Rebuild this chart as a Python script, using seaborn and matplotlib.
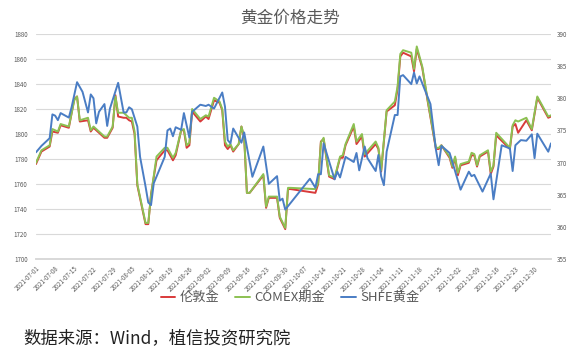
import matplotlib
matplotlib.use("Agg")
import matplotlib.pyplot as plt
import matplotlib.dates as mdates
import pandas as pd
import seaborn as sns

# 伦敦金 / COMEX期金 (美元/盎司), 左轴
intl_dates = [
    "2021-07-01", "2021-07-03", "2021-07-06", "2021-07-07", "2021-07-09", "2021-07-10",
    "2021-07-13", "2021-07-15", "2021-07-16", "2021-07-17", "2021-07-20", "2021-07-21",
    "2021-07-22", "2021-07-24", "2021-07-26", "2021-07-27", "2021-07-29", "2021-07-30",
    "2021-07-31", "2021-08-02", "2021-08-03", "2021-08-04", "2021-08-05", "2021-08-06",
    "2021-08-07", "2021-08-10", "2021-08-11", "2021-08-12", "2021-08-14", "2021-08-17",
    "2021-08-18", "2021-08-20", "2021-08-21", "2021-08-23", "2021-08-24", "2021-08-25",
    "2021-08-26", "2021-08-27", "2021-08-30", "2021-09-01", "2021-09-02", "2021-09-04",
    "2021-09-06", "2021-09-07", "2021-09-08", "2021-09-09", "2021-09-10", "2021-09-11",
    "2021-09-13", "2021-09-14", "2021-09-15", "2021-09-16", "2021-09-17", "2021-09-22",
    "2021-09-23", "2021-09-24", "2021-09-27", "2021-09-28", "2021-09-30", "2021-10-01",
    "2021-10-02", "2021-10-11", "2021-10-12", "2021-10-13", "2021-10-14", "2021-10-16",
    "2021-10-18", "2021-10-20", "2021-10-21", "2021-10-22", "2021-10-25", "2021-10-26",
    "2021-10-28", "2021-10-29", "2021-11-02", "2021-11-03", "2021-11-04", "2021-11-06",
    "2021-11-09", "2021-11-10", "2021-11-11", "2021-11-12", "2021-11-15", "2021-11-16",
    "2021-11-17", "2021-11-19", "2021-11-21", "2021-11-24", "2021-11-25", "2021-11-26",
    "2021-11-29", "2021-11-30", "2021-12-01", "2021-12-02", "2021-12-03", "2021-12-06",
    "2021-12-07", "2021-12-08", "2021-12-09", "2021-12-10", "2021-12-13", "2021-12-14",
    "2021-12-15", "2021-12-16", "2021-12-21", "2021-12-22", "2021-12-23", "2021-12-24",
    "2021-12-27", "2021-12-29", "2021-12-31", "2022-01-04", "2022-01-05",
]
london = [
    1776, 1786, 1790, 1802, 1801, 1807, 1805, 1828, 1830, 1810, 1811, 1802,
    1805, 1801, 1797, 1797, 1805, 1831, 1814, 1813, 1813, 1811, 1810, 1800,
    1759, 1728, 1728, 1752, 1779, 1787, 1787, 1779, 1783, 1803, 1803, 1789,
    1791, 1818, 1810, 1814, 1812, 1827, 1825, 1819, 1791, 1788, 1791, 1786,
    1792, 1806, 1797, 1753, 1753, 1767, 1741, 1749, 1749, 1733, 1724, 1756,
    1756, 1753, 1760, 1794, 1796, 1766, 1764, 1781, 1781, 1791, 1806, 1792,
    1798, 1782, 1792, 1788, 1770, 1818, 1823, 1836, 1862, 1865, 1862, 1850,
    1868, 1853, 1826, 1788, 1788, 1791, 1781, 1773, 1781, 1767, 1775, 1777,
    1783, 1783, 1774, 1782, 1786, 1768, 1774, 1799, 1788, 1806, 1808, 1801,
    1811, 1803, 1829, 1813, 1814,
]
comex = [
    1777, 1787, 1791, 1804, 1802, 1808, 1806, 1827, 1830, 1811, 1813, 1803,
    1806, 1802, 1798, 1798, 1806, 1830, 1817, 1817, 1815, 1813, 1813, 1802,
    1760, 1729, 1729, 1751, 1782, 1789, 1789, 1781, 1785, 1803, 1804, 1791,
    1793, 1820, 1812, 1815, 1814, 1829, 1826, 1820, 1794, 1790, 1792, 1787,
    1792, 1806, 1798, 1753, 1753, 1768, 1742, 1750, 1750, 1734, 1725, 1757,
    1757, 1756, 1761, 1793, 1797, 1767, 1765, 1782, 1783, 1792, 1808, 1794,
    1800, 1784, 1794, 1789, 1771, 1819, 1826, 1838, 1864, 1867, 1865, 1852,
    1870, 1854, 1827, 1789, 1789, 1791, 1782, 1774, 1782, 1769, 1776, 1778,
    1785, 1784, 1775, 1783, 1787, 1770, 1775, 1801, 1789, 1807, 1811, 1810,
    1813, 1804, 1830, 1814, 1815,
]

# SHFE黄金 (元/克), 右轴
shfe_dates = [
    "2021-07-01", "2021-07-03", "2021-07-06", "2021-07-07", "2021-07-08", "2021-07-09",
    "2021-07-10", "2021-07-13", "2021-07-14", "2021-07-16", "2021-07-18", "2021-07-20",
    "2021-07-21", "2021-07-22", "2021-07-23", "2021-07-24", "2021-07-26", "2021-07-27",
    "2021-07-28", "2021-07-31", "2021-08-02", "2021-08-03", "2021-08-04", "2021-08-05",
    "2021-08-07", "2021-08-08", "2021-08-10", "2021-08-11", "2021-08-12", "2021-08-13",
    "2021-08-17", "2021-08-18", "2021-08-19", "2021-08-20", "2021-08-21", "2021-08-23",
    "2021-08-24", "2021-08-26", "2021-08-27", "2021-08-30", "2021-09-01", "2021-09-02",
    "2021-09-04", "2021-09-07", "2021-09-08", "2021-09-09", "2021-09-10", "2021-09-11",
    "2021-09-14", "2021-09-15", "2021-09-18", "2021-09-22", "2021-09-24", "2021-09-27",
    "2021-09-28", "2021-09-29", "2021-09-30", "2021-10-09", "2021-10-11", "2021-10-12",
    "2021-10-13", "2021-10-14", "2021-10-18", "2021-10-19", "2021-10-20", "2021-10-22",
    "2021-10-25", "2021-10-26", "2021-10-27", "2021-10-29", "2021-10-30", "2021-11-02",
    "2021-11-03", "2021-11-04", "2021-11-05", "2021-11-06", "2021-11-09", "2021-11-10",
    "2021-11-11", "2021-11-12", "2021-11-15", "2021-11-16", "2021-11-17", "2021-11-18",
    "2021-11-22", "2021-11-24", "2021-11-25", "2021-11-26", "2021-11-29", "2021-11-30",
    "2021-12-03", "2021-12-06", "2021-12-07", "2021-12-08", "2021-12-11", "2021-12-14",
    "2021-12-15", "2021-12-18", "2021-12-21", "2021-12-22", "2021-12-23", "2021-12-25",
    "2021-12-27", "2021-12-29", "2021-12-30", "2021-12-31", "2022-01-04", "2022-01-05",
]
shfe = [
    371.6, 372.6, 373.8, 377.5, 377.3, 376.6, 377.7, 377.0, 378.6, 382.5, 381.0, 377.8,
    380.6, 380.0, 376.1, 377.9, 379.1, 375.7, 378.4, 382.4, 377.8, 377.8, 378.6, 378.3,
    375.6, 370.9, 366.3, 363.8, 363.4, 366.8, 370.9, 375.0, 375.3, 374.1, 375.5, 375.1,
    377.7, 373.9, 377.9, 379.0, 378.8, 379.0, 378.4, 380.9, 378.7, 373.5, 373.0, 375.3,
    373.1, 374.7, 367.8, 372.5, 366.7, 367.9, 364.1, 364.4, 362.7, 367.5, 366.1, 368.2,
    368.2, 373.0, 367.4, 368.6, 367.7, 370.9, 370.1, 371.5, 368.8, 372.5, 370.7, 368.7,
    371.2, 367.9, 366.5, 371.7, 377.4, 377.4, 383.4, 383.6, 382.2, 384.0, 382.3, 383.4,
    379.1, 372.0, 369.6, 372.6, 371.5, 370.1, 365.8, 368.6, 367.9, 368.1, 365.5, 368.3,
    364.3, 372.7, 372.2, 368.7, 372.7, 373.5, 373.4, 374.4, 370.7, 374.5, 371.7, 373.0,
]

sns.set_theme(style="white")
plt.rcParams["font.family"] = ["Noto Sans CJK SC", "DejaVu Sans"]
grey = "#595959"

intl = pd.DataFrame({"date": pd.to_datetime(intl_dates), "london": london, "comex": comex})
sh = pd.DataFrame({"date": pd.to_datetime(shfe_dates), "shfe": shfe})

fig = plt.figure(figsize=(5.8, 3.57), dpi=100)
ax = fig.add_axes([0.062, 0.274, 0.888, 0.631])
ax2 = ax.twinx()

sns.lineplot(data=intl, x="date", y="london", ax=ax, color="#D93A3A", linewidth=1.4, label="伦敦金", legend=False)
sns.lineplot(data=intl, x="date", y="comex", ax=ax, color="#8CC152", linewidth=1.4, label="COMEX期金", legend=False)
sns.lineplot(data=sh, x="date", y="shfe", ax=ax2, color="#4A7DC4", linewidth=1.4, label="SHFE黄金", legend=False)

ax.set_ylim(1700, 1880)
ax.set_yticks(range(1700, 1881, 20))
ax2.set_ylim(355, 390)
ax2.set_yticks(range(355, 391, 5))
ax.set_xlim(pd.Timestamp("2021-07-01"), pd.Timestamp("2022-01-05"))

ticks = pd.date_range("2021-07-01", "2021-12-30", freq="7D")
ax.set_xticks(ticks)
ax.xaxis.set_major_formatter(mdates.DateFormatter("%Y-%m-%d"))
for lab in ax.get_xticklabels():
    lab.set_rotation(45)
    lab.set_ha("right")
    lab.set_rotation_mode("anchor")

ax.grid(axis="y", color="#D9D9D9", linewidth=0.8)
ax.set_axisbelow(True)
for a in (ax, ax2):
    a.set_xlabel("")
    a.set_ylabel("")
    for side in ("left", "right", "top"):
        a.spines[side].set_visible(False)
    a.spines["bottom"].set_color("#D9D9D9")
ax.tick_params(axis="x", labelsize=4.5, colors=grey, length=2, color="#D9D9D9", pad=2)
ax.tick_params(axis="y", labelsize=4.5, colors=grey, length=0, pad=6)
ax2.tick_params(axis="y", labelsize=4.5, colors=grey, length=0, pad=4)

fig.text(0.5, 0.95, "黄金价格走势", ha="center", va="center", fontsize=12, color=grey)

handles = ax.get_lines()[:2] + ax2.get_lines()[:1]
fig.legend(handles, ["伦敦金", "COMEX期金", "SHFE黄金"], loc="center", bbox_to_anchor=(0.5, 0.166),
           ncol=3, frameon=False, fontsize=9.5, handlelength=1.1, handletextpad=0.35,
           columnspacing=1.2, labelcolor=grey)

fig.text(0.041, 0.053, "数据来源：Wind，植信投资研究院", ha="left", va="center", fontsize=12.5, color="#222222")

fig.savefig("out.png", dpi=100)
